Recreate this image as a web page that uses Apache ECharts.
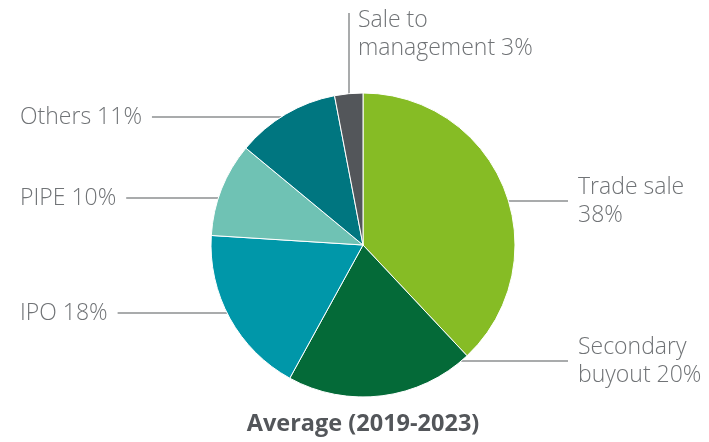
<!DOCTYPE html>
<html>
<head>
<meta charset="utf-8">
<script src="https://cdn.jsdelivr.net/npm/echarts@6/dist/echarts.min.js"></script>
<style>
  html, body { margin: 0; padding: 0; background: #fff; }
  #chart { width: 709px; height: 442px; }
</style>
</head>
<body>
<div id="chart"></div>
<script>
// data
const categories = ['Trade sale', 'Secondary buyout', 'IPO', 'PIPE', 'Others', 'Sale to management'];
const shares = [38, 20, 18, 10, 11, 3];
const colors = ['#86bc25', '#046a38', '#0097a9', '#6fc2b4', '#007680', '#53565a'];
// how each label text breaks onto two lines
const labelBreaks = ['Trade sale\n', 'Secondary\nbuyout ', 'IPO ', 'PIPE ', 'Others ', 'Sale to\nmanagement '];

// pie geometry
const cx = 363, cy = 245, r = 152;

// where each label sits (text anchor) and which way its line goes
const labelSpots = [
  { side: 'right', x: 578, y: 201 },
  { side: 'right', x: 578, y: 361 },
  { side: 'left', x: 20, y: 313 },
  { side: 'left', x: 20, y: 198 },
  { side: 'left', x: 20, y: 117 },
  { side: 'top', x: 358, y: 6, lineX: 349 }
];

const chart = echarts.init(document.getElementById('chart'));

const option = {
  animation: false,
  color: colors,
  graphic: [{
    type: 'text',
    x: cx,
    y: 424,
    style: {
      text: 'Average (2019-2023)',
      fill: '#53565a',
      font: 'bold 23.5px "Open Sans"',
      align: 'center',
      verticalAlign: 'middle'
    }
  }],
  series: [{
    type: 'pie',
    center: [cx, cy],
    radius: r,
    startAngle: 90,
    clockwise: true,
    itemStyle: { borderColor: '#fff', borderWidth: 1 },
    data: categories.map((c, i) => ({ name: c, value: shares[i] })),
    label: {
      show: true,
      position: 'outside',
      formatter: p => labelBreaks[p.dataIndex] + p.value + '%',
      color: '#707376',
      fontFamily: 'Open Sans',
      fontWeight: 300,
      fontSize: 23,
      lineHeight: 28
    },
    labelLine: {
      show: true,
      lineStyle: { color: '#8d8f91', width: 1.5 }
    },
    labelLayout: function (params) {
      const s = labelSpots[params.dataIndex];
      const w = params.labelRect.width;
      if (s.side === 'right') {
        const ex = cx + Math.sqrt(r * r - (s.y - cy) * (s.y - cy));
        return {
          x: s.x, y: s.y, align: 'left', verticalAlign: 'middle',
          labelLinePoints: [[ex, s.y], [ex, s.y], [s.x - 10, s.y]]
        };
      }
      if (s.side === 'left') {
        const ex = cx - Math.sqrt(r * r - (s.y - cy) * (s.y - cy));
        return {
          x: s.x, y: s.y, align: 'left', verticalAlign: 'middle',
          labelLinePoints: [[ex, s.y], [ex, s.y], [s.x + w + 10, s.y]]
        };
      }
      const ey = cy - Math.sqrt(r * r - (s.lineX - cx) * (s.lineX - cx));
      return {
        x: s.x, y: s.y, align: 'left', verticalAlign: 'top',
        labelLinePoints: [[s.lineX, ey], [s.lineX, ey], [s.lineX, 13]]
      };
    }
  }]
};

option && chart.setOption(option);
</script>
</body>
</html>
